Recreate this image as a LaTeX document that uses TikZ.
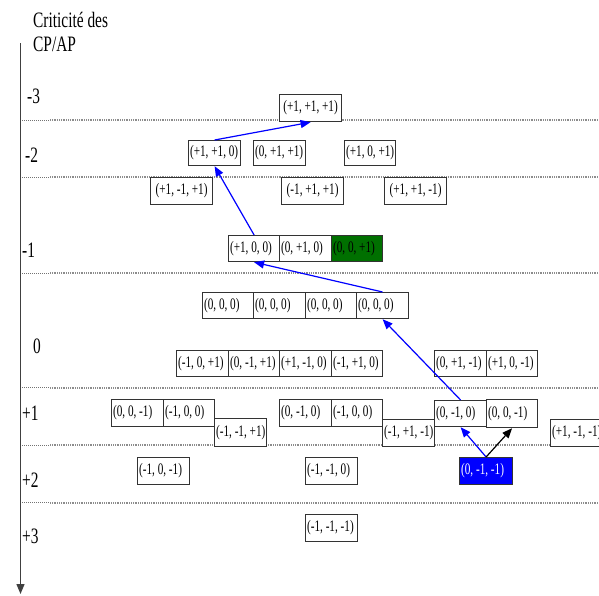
\documentclass[tikz,border=0pt]{standalone}
\usepackage{fontspec}
\setmainfont{Liberation Serif}[FakeStretch=0.7]
\usetikzlibrary{arrows.meta}
\definecolor{dgreen}{RGB}{0,112,0}
\newcommand{\cellL}[2]{\makebox[#1pt][l]{\hspace{1.5pt}#2}}
\newcommand{\cellC}[2]{\makebox[#1pt][c]{#2}}
\begin{document}
\begin{tikzpicture}[x=1pt,y=-1pt,
  cell/.style={draw=black!80, line width=1.2pt, fill=white, anchor=north west,
    inner xsep=0pt, inner ysep=0pt, minimum height=26pt,
    font=\fontsize{16}{16}\selectfont, text=black},
  lvl/.style={anchor=base west, inner sep=0pt, font=\fontsize{22}{22}\selectfont},
  sepline/.style={black!45, line width=2pt, dash pattern=on 1pt off 0.8pt},
  septhin/.style={black!55, line width=0.8pt, dash pattern=on 1pt off 1pt},
  barrow/.style={blue, line width=1.2pt, -{Triangle[length=10pt,width=8pt]}},
  karrow/.style={black, line width=1.2pt, -{Triangle[length=10pt,width=8pt]}},
  axis/.style={black!75, line width=1.3pt, -{Triangle[length=10pt,width=8pt]}}
]
\useasboundingbox (0,0) rectangle (599,595);
\clip (0,0) rectangle (599,595);

% level separators
\foreach \yy in {120,177,273,387.5,445,502.5}{
  \draw[septhin] (20,\yy) -- (50,\yy);
  \draw[sepline] (50,\yy) -- (599,\yy);
}

% axis
\coordinate (axtop) at (20.5,43);
\coordinate (axbot) at (20.5,594);
\draw[axis] (axtop) -- (axbot);

% labels
\node[lvl] (t1) at (33,27) {Criticité des};
\node[lvl] (t2) at (33,51.5) {CP/AP};
\node[lvl] (l3) at (27,103) {-3};
\node[lvl] (l2) at (25,162) {-2};
\node[lvl] (l1) at (22,257) {-1};
\node[lvl] (l0) at (33,353) {0};
\node[lvl] (p1) at (22,420) {+1};
\node[lvl] (p2) at (22,487) {+2};
\node[lvl] (p3) at (22,543) {+3};

% level -3
\node[cell, minimum height=27pt] (a1) at (279,94) {\cellC{62}{(+1, +1, +1)}};
% level -2
\node[cell, minimum height=25pt] (b1) at (188,140) {\cellL{52}{(+1, +1, 0)}};
\node[cell, minimum height=25pt] (b2) at (253,140) {\cellL{52}{(0, +1, +1)}};
\node[cell, minimum height=25pt] (b3) at (344,140) {\cellL{51}{(+1, 0, +1)}};
\node[cell, minimum height=27pt] (b4) at (150,177) {\cellC{62}{(+1, -1, +1)}};
\node[cell, minimum height=27pt] (b5) at (281,177) {\cellC{62}{(-1, +1, +1)}};
\node[cell, minimum height=27pt] (b6) at (384,177) {\cellC{62}{(+1, +1, -1)}};
% level -1
\node[cell] (c1) at (228,235) {\cellL{51}{(+1, 0, 0)}};
\node[cell] (c2) at (279,235) {\cellL{52}{(0, +1, 0)}};
\node[cell, fill=dgreen] (c3) at (331,235) {\cellL{51}{(0, 0, +1)}};
% level 0
\node[cell] (d1) at (202,292) {\cellL{51}{(0, 0, 0)}};
\node[cell] (d2) at (253,292) {\cellL{52}{(0, 0, 0)}};
\node[cell] (d3) at (305,292) {\cellL{51}{(0, 0, 0)}};
\node[cell] (d4) at (356,292) {\cellL{52}{(0, 0, 0)}};
\node[cell] (e1) at (176,350) {\cellL{52}{(-1, 0, +1)}};
\node[cell] (e2) at (228,350) {\cellL{51}{(0, -1, +1)}};
\node[cell] (e3) at (279,350) {\cellL{52}{(+1, -1, 0)}};
\node[cell] (e4) at (331,350) {\cellL{51}{(-1, +1, 0)}};
\node[cell] (e5) at (434,350) {\cellL{52}{(0, +1, -1)}};
\node[cell] (e6) at (486,350) {\cellL{51}{(+1, 0, -1)}};
% level +1
\node[cell, minimum height=27pt] (f1) at (111,399) {\cellL{52}{(0, 0, -1)}};
\node[cell, minimum height=27pt] (f2) at (163,399) {\cellL{51}{(-1, 0, 0)}};
\node[cell, minimum height=28pt] (f3) at (214,418) {\cellL{52}{(-1, -1, +1)}};
\node[cell, minimum height=27pt] (f4) at (279,399) {\cellL{52}{(0, -1, 0)}};
\node[cell, minimum height=27pt] (f5) at (331,399) {\cellL{51}{(-1, 0, 0)}};
\node[cell, minimum height=27pt] (f6) at (382,419) {\cellL{52}{(-1, +1, -1)}};
\node[cell] (f7) at (434,400) {\cellL{52}{(0, -1, 0)}};
\node[cell, minimum height=28pt] (f8) at (486,399) {\cellL{51}{(0, 0, -1)}};
\node[cell, minimum height=27pt] (f9) at (550,419) {\cellL{58}{(+1, -1, -1)}};
% level +2
\node[cell, minimum height=27pt] (g1) at (137,457) {\cellL{52}{(-1, 0, -1)}};
\node[cell, minimum height=27pt] (g2) at (305,457) {\cellL{52}{(-1, -1, 0)}};
\node[cell, minimum height=27pt, fill=blue, text=white] (g3) at (459,457) {\cellL{53}{(0, -1, -1)}};
% level +3
\node[cell, minimum height=27pt] (h1) at (305,514) {\cellL{52}{(-1, -1, -1)}};

% path
\draw[barrow] (g3.north) -- (f7.south);
\draw[karrow] (g3.north) -- (f8.south);
\draw[barrow] (f7.north) -- (d4.south);
\draw[barrow] (d4.north) -- (c1.south);
\draw[barrow] (c1.north) -- (b1.south);
\draw[barrow] (b1.north) -- (a1.south);
\end{tikzpicture}
\end{document}
